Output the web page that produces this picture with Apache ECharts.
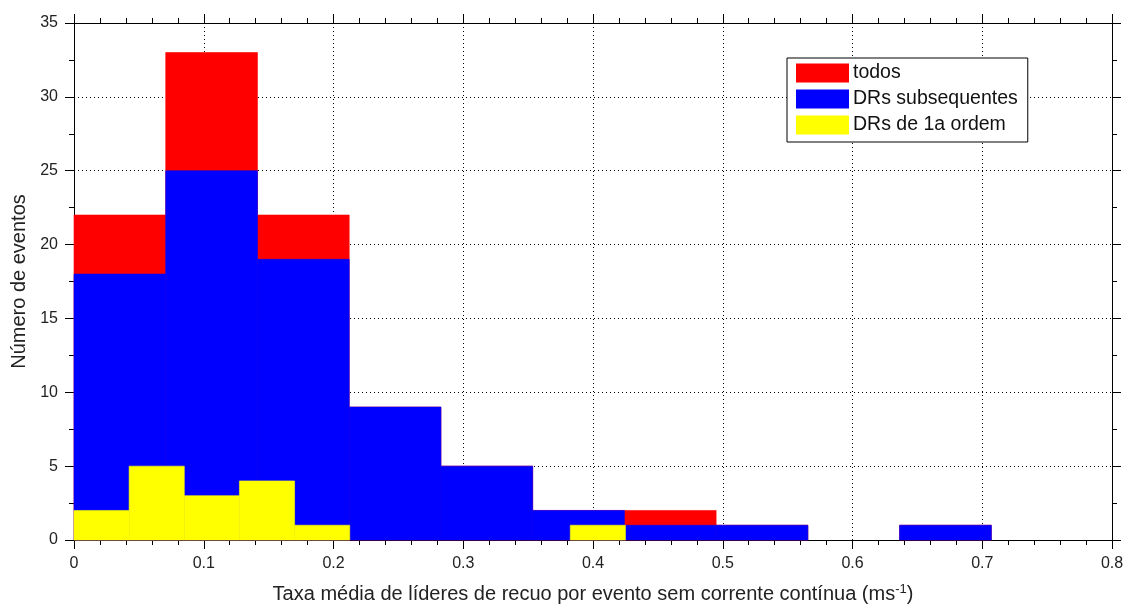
<!DOCTYPE html>
<html>
<head>
<meta charset="utf-8">
<script src="https://cdn.jsdelivr.net/npm/echarts@6/dist/echarts.min.js"></script>
<style>
html,body{margin:0;padding:0;background:#fff;overflow:hidden;}
#chart{width:1123px;height:605px;}
</style>
</head>
<body>
<div id="chart"></div>
<script>
// Histogram bin edges (ms^-1)
var binEdgesDR = [0, 0.0707, 0.1414, 0.2121, 0.2828, 0.3535, 0.4242, 0.4949, 0.5656, 0.6363, 0.707];
var binEdgesFirst = [0, 0.0425, 0.085, 0.1275, 0.17, 0.2125, 0.255, 0.2975, 0.34, 0.3825, 0.425];
// Counts per bin
var todosCounts = [22, 33, 22, 9, 5, 2, 2, 1, 0, 1];
var subsequentesCounts = [18, 25, 19, 9, 5, 2, 1, 1, 0, 1];
var primeiraCounts = [2, 5, 3, 4, 1, 0, 0, 0, 0, 1];
var seriesNames = ['todos', 'DRs subsequentes', 'DRs de 1a ordem'];
var seriesColors = ['#ff0000', '#0000ff', '#ffff00'];
var xTicks = [0, 0.1, 0.2, 0.3, 0.4, 0.5, 0.6, 0.7, 0.8];
var yTicks = [0, 5, 10, 15, 20, 25, 30, 35];

function toBins(edges, counts) {
  var out = [];
  for (var i = 0; i < counts.length; i++) out.push([edges[i], edges[i + 1], counts[i]]);
  return out;
}
function renderItem(params, api) {
  if (!api.value(2)) return null;
  var p0 = api.coord([api.value(0), api.value(2)]);
  var p1 = api.coord([api.value(1), 0]);
  var c = api.visual('color');
  return {
    type: 'rect',
    shape: { x: p0[0], y: p0[1], width: p1[0] - p0[0], height: p1[1] - p0[1] },
    style: { fill: c, stroke: c, lineWidth: 0.6 }
  };
}
var font = 'Liberation Sans, Arial, sans-serif';
var tickColor = '#000';
function makeX(pos, show) {
  return {
    type: 'value', position: pos, min: xTicks[0], max: xTicks[xTicks.length - 1], interval: 0.1,
    axisLine: { show: true, onZero: false, lineStyle: { color: '#000', width: 1 } },
    axisTick: { show: true, inside: false, length: 9, lineStyle: { color: tickColor } },
    minorTick: { show: true, splitNumber: 5, length: 5, lineStyle: { color: tickColor } },
    axisLabel: { show: show, color: '#222', fontFamily: font, fontSize: 16, margin: 16 },
    splitLine: { show: show, lineStyle: { color: '#000', type: [1, 3], width: 1 } }
  };
}
function makeY(pos, show) {
  return {
    type: 'value', position: pos, min: yTicks[0], max: yTicks[yTicks.length - 1], interval: 5,
    axisLine: { show: true, onZero: false, lineStyle: { color: '#000', width: 1 } },
    axisTick: { show: true, inside: false, length: 9, lineStyle: { color: tickColor } },
    minorTick: { show: true, splitNumber: 2, length: 5, lineStyle: { color: tickColor } },
    axisLabel: { show: show, color: '#222', fontFamily: font, fontSize: 16, margin: 16 },
    splitLine: { show: show, lineStyle: { color: '#000', type: [1, 3], width: 1 } }
  };
}
var xMain = makeX('bottom', true);
xMain.name = '{a|Taxa média de líderes de recuo por evento sem corrente contínua (ms}{s|-1}{a|)}';
xMain.nameLocation = 'middle';
xMain.nameGap = 43;
xMain.nameTextStyle = {
  rich: {
    a: { fontFamily: font, fontSize: 20, color: '#222' },
    s: { fontFamily: font, fontSize: 13, color: '#222', verticalAlign: 'top', padding: [0, 0, 10, 0] }
  }
};
var yMain = makeY('left', true);
yMain.name = 'Número de eventos';
yMain.nameLocation = 'middle';
yMain.nameRotate = 90;
yMain.nameGap = 42;
yMain.nameTextStyle = { fontFamily: font, fontSize: 20, color: '#222' };

var chart = echarts.init(document.getElementById('chart'), null, { renderer: 'canvas' });
var series = [
  toBins(binEdgesDR, todosCounts),
  toBins(binEdgesDR, subsequentesCounts),
  toBins(binEdgesFirst, primeiraCounts)
].map(function (d, i) {
  return {
    type: 'custom', name: seriesNames[i], renderItem: renderItem,
    xAxisIndex: 0, yAxisIndex: 0,
    itemStyle: { color: seriesColors[i] },
    encode: { x: [0, 1], y: 2 },
    data: d, animation: false
  };
});
chart.setOption({
  animation: false,
  backgroundColor: '#fff',
  grid: { left: 74, right: 11, top: 23, bottom: 65, containLabel: false, outerBoundsMode: 'none' },
  xAxis: [xMain, makeX('top', false)],
  yAxis: [yMain, makeY('right', false)],
  legend: {
    data: seriesNames,
    orient: 'vertical',
    left: 787, top: 58,
    icon: 'rect',
    itemWidth: 53, itemHeight: 19,
    itemGap: 6,
    padding: [5, 10, 7, 9],
    borderColor: '#000', borderWidth: 1,
    backgroundColor: '#fff',
    itemStyle: { borderWidth: 0 },
    textStyle: { fontFamily: font, fontSize: 19.5, color: '#111', padding: [0, 0, 0, -1] }
  },
  series: series
});
</script>
</body>
</html>
